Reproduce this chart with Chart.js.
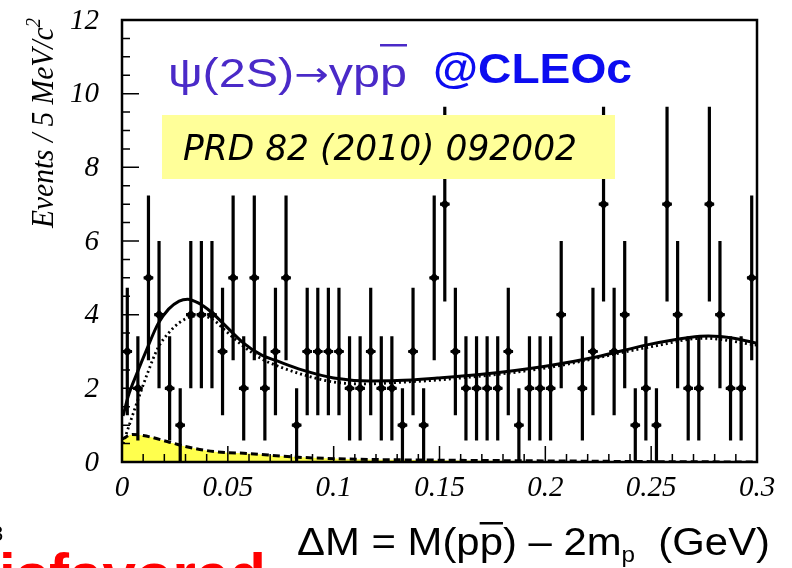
<!DOCTYPE html>
<html lang="en">
<head>
<meta charset="UTF-8">
<title>psi(2S) to gamma p pbar</title>
<style>
  html, body { margin: 0; padding: 0; background: #fff; }
</style>
</head>
<body>
<div><canvas id="myChart" width="792" height="568"></canvas></div>

<script src="https://cdn.jsdelivr.net/npm/chart.js"></script>
<script>
// events per 5 MeV bin, DeltaM from 0 to 0.3 GeV (60 bins)
const binWidth = 0.005;
const counts = [3,2,5,4,2,1,4,4,4,3, 5,2,5,2,3,5,1,3,3,3,
                3,2,2,3,2,2,1,3,1,5, 7,3,2,2,2,2,3,1,2,2,
                2,4,0,2,3,7,3,4,1,2, 1,7,4,2,2,7,4,2,2,5];

// total fit (solid)
const fitX = [0.0005,0.003,0.007,0.012,0.017,0.022,0.027,0.031,0.036,0.042,0.048,0.057,0.066,0.073,0.085,0.1,0.117,0.13,0.149,0.17,0.2,0.224,0.248,0.268,0.277,0.289,0.3];
const fitY = [1.25,1.8,2.4,3.1,3.75,4.15,4.37,4.42,4.32,4.08,3.75,3.25,2.9,2.75,2.5,2.28,2.2,2.21,2.28,2.38,2.6,2.85,3.18,3.38,3.42,3.36,3.22];

// alternative fit (dotted)
const altX = [0.0005,0.004,0.007,0.012,0.017,0.022,0.027,0.033,0.038,0.044,0.048,0.057,0.066,0.073,0.085,0.1,0.115,0.13,0.15,0.2,0.25,0.275,0.3];
const altY = [0.5,1.1,1.6,2.4,3.1,3.5,3.78,3.95,3.97,3.82,3.61,3.16,2.8,2.62,2.38,2.17,2.12,2.16,2.23,2.55,3.13,3.36,3.17];

// background (dashed, yellow)
const bgX = [0,0.005,0.01,0.0217,0.03,0.044,0.06,0.08,0.107,0.15,0.2,0.25,0.3];
const bgY = [0.62,0.75,0.72,0.55,0.42,0.28,0.23,0.14,0.08,0.05,0.03,0.01,0.0];

const xTicks = [0, 0.05, 0.1, 0.15, 0.2, 0.25, 0.3];
const xTickLabels = ['0', '0.05', '0.1', '0.15', '0.2', '0.25', '0.3'];
const yTicks = [0, 2, 4, 6, 8, 10, 12];
const yTickLabels = ['0', '2', '4', '6', '8', '10', '12'];

function pts(xs, ys) { return xs.map((x, i) => ({ x: x, y: ys[i] })); }

const binPoints = [];
counts.forEach((n, i) => {
  if (n > 0) binPoints.push({ x: (i + 0.5) * binWidth, y: n });
});

// draw a list of text pieces squeezed to a given width
function drawRuns(ctx, runs, x, y, width, rotate) {
  let total = 0;
  runs.forEach(r => { ctx.font = r.font; r.w = ctx.measureText(r.text).width; total += r.w; });
  const sx = width ? width / total : 1;
  ctx.save();
  ctx.translate(x, y);
  if (rotate) ctx.rotate(-Math.PI / 2);
  ctx.scale(sx, 1);
  let cx = 0;
  runs.forEach(r => {
    ctx.font = r.font;
    ctx.fillStyle = r.color || '#000';
    ctx.textAlign = 'left';
    ctx.textBaseline = 'alphabetic';
    ctx.fillText(r.text, cx, r.dy || 0);
    if (r.overline) {
      ctx.fillRect(cx, r.overline, r.w, 2.5);
    }
    cx += r.w;
  });
  ctx.restore();
}

const decorations = {
  id: 'decorations',
  beforeDraw(chart) {
    const ctx = chart.ctx;
    ctx.save();
    ctx.fillStyle = '#fff';
    ctx.fillRect(0, 0, chart.width, chart.height);
    ctx.restore();
  },
  afterDatasetsDraw(chart) {
    const ctx = chart.ctx;
    const xs = chart.scales.x, ys = chart.scales.y;
    const a = chart.chartArea;
    ctx.save();
    ctx.beginPath();
    ctx.rect(a.left, a.top, a.right - a.left, a.bottom - a.top);
    ctx.clip();
    ctx.strokeStyle = '#000';
    ctx.lineWidth = 3.2;
    binPoints.forEach(p => {
      const e = Math.sqrt(p.y);
      const px = xs.getPixelForValue(p.x);
      ctx.beginPath();
      ctx.moveTo(px, ys.getPixelForValue(p.y - e));
      ctx.lineTo(px, ys.getPixelForValue(p.y + e));
      ctx.moveTo(xs.getPixelForValue(p.x - binWidth * 0.45), ys.getPixelForValue(p.y));
      ctx.lineTo(xs.getPixelForValue(p.x + binWidth * 0.45), ys.getPixelForValue(p.y));
      ctx.stroke();
    });
    ctx.restore();
  },
  afterDraw(chart) {
    const ctx = chart.ctx;
    const xs = chart.scales.x, ys = chart.scales.y;
    const a = chart.chartArea;

    // reference box
    ctx.save();
    ctx.fillStyle = '#ffff99';
    ctx.fillRect(162, 115, 453, 64);
    ctx.restore();
    drawRuns(ctx, [{ text: 'PRD 82 (2010) 092002', font: 'italic 36px "DejaVu Sans"' }], 183, 160, 394);

    // process label
    drawRuns(ctx, [
      { text: 'ψ(2S)', font: '40px "Liberation Sans"', color: '#4a2ac8' },
      { text: '→', font: '34px "DejaVu Sans"', color: '#4a2ac8', dy: -1 },
      { text: 'γp', font: '40px "Liberation Sans"', color: '#4a2ac8' },
      { text: 'p', font: '40px "Liberation Sans"', color: '#4a2ac8', overline: -43 }
    ], 168, 87, 239);
    drawRuns(ctx, [{ text: '@CLEOc', font: 'bold 42px "Liberation Sans"', color: '#0c0cf0' }], 433, 83, 199);

    // frame
    ctx.save();
    ctx.strokeStyle = '#000';
    ctx.lineWidth = 2.5;
    ctx.strokeRect(a.left, a.top, a.right - a.left, a.bottom - a.top);

    // inward ticks
    ctx.lineWidth = 1.5;
    ctx.beginPath();
    for (let v = 0; v <= 12.001; v += 0.5) {
      const py = ys.getPixelForValue(v);
      const len = Math.abs(v / 2 - Math.round(v / 2)) < 1e-6 ? 17 : 8;
      ctx.moveTo(a.left, py);
      ctx.lineTo(a.left + len, py);
    }
    for (let k = 0; k <= 30; k++) {
      const px = xs.getPixelForValue(k * 0.01);
      const len = k % 5 === 0 ? 16 : 8;
      ctx.moveTo(px, a.bottom);
      ctx.lineTo(px, a.bottom - len);
    }
    ctx.stroke();

    // tick labels
    ctx.fillStyle = '#000';
    ctx.font = 'italic 29px "Liberation Serif"';
    ctx.textAlign = 'right';
    ctx.textBaseline = 'middle';
    yTicks.forEach((v, i) => ctx.fillText(yTickLabels[i], 99, ys.getPixelForValue(v) + 1));
    ctx.textAlign = 'center';
    xTicks.forEach((v, i) => ctx.fillText(xTickLabels[i], xs.getPixelForValue(v), 488));
    ctx.restore();

    // axis titles
    drawRuns(ctx, [
      { text: 'ΔM = M(p', font: '38px "Liberation Sans"' },
      { text: 'p', font: '38px "Liberation Sans"', overline: -33 },
      { text: ') – 2m', font: '38px "Liberation Sans"' },
      { text: 'p', font: '22px "Liberation Sans"', dy: 7 },
      { text: '  (GeV)', font: '38px "Liberation Sans"' }
    ], 297, 555, 473);
    drawRuns(ctx, [
      { text: 'Events / 5 MeV/c', font: 'italic 31px "Liberation Serif"' },
      { text: '2', font: 'italic 20px "Liberation Serif"', dy: -13 }
    ], 53, 228, 210, true);

    // page fragments cut by the frame
    ctx.save();
    ctx.fillStyle = '#ff0000';
    ctx.font = 'bold 60px "Liberation Sans"';
    ctx.textAlign = 'left';
    ctx.textBaseline = 'alphabetic';
    const dw = ctx.measureText('d').width;
    ctx.fillText('disfavored', -dw - 1, 595);
    ctx.fillStyle = '#000';
    ctx.font = '22px "Liberation Sans"';
    ctx.fillText('3', -9, 541);
    ctx.restore();
  }
};

const data = {
  datasets: [
    {
      type: 'scatter',
      label: 'data',
      data: binPoints,
      pointStyle: 'rectRot',
      pointRadius: 5,
      backgroundColor: '#000',
      borderColor: '#000',
      borderWidth: 0,
      order: 0
    },
    {
      type: 'line',
      label: 'fit',
      data: pts(fitX, fitY),
      borderColor: '#000',
      borderWidth: 3,
      pointRadius: 0,
      fill: false,
      cubicInterpolationMode: 'monotone',
      order: 1
    },
    {
      type: 'line',
      label: 'fit (alt)',
      data: pts(altX, altY),
      borderColor: '#000',
      borderWidth: 2.8,
      borderDash: [2, 3],
      pointRadius: 0,
      fill: false,
      cubicInterpolationMode: 'monotone',
      order: 2
    },
    {
      type: 'line',
      label: 'background',
      data: pts(bgX, bgY),
      borderColor: '#000',
      borderWidth: 3,
      borderDash: [7, 4],
      pointRadius: 0,
      fill: 'origin',
      backgroundColor: '#ffff4d',
      cubicInterpolationMode: 'monotone',
      order: 3
    }
  ]
};

const config = {
  type: 'scatter',
  data: data,
  options: {
    responsive: false,
    animation: false,
    layout: { padding: { left: 122, right: 35, top: 20, bottom: 106 } },
    plugins: {
      legend: { display: false },
      tooltip: { enabled: false }
    },
    scales: {
      x: { type: 'linear', min: 0, max: 0.3, display: false },
      y: { type: 'linear', min: 0, max: 12, display: false }
    }
  },
  plugins: [decorations]
};

const myChart = new Chart(document.getElementById('myChart'), config);
</script>
</body>
</html>
